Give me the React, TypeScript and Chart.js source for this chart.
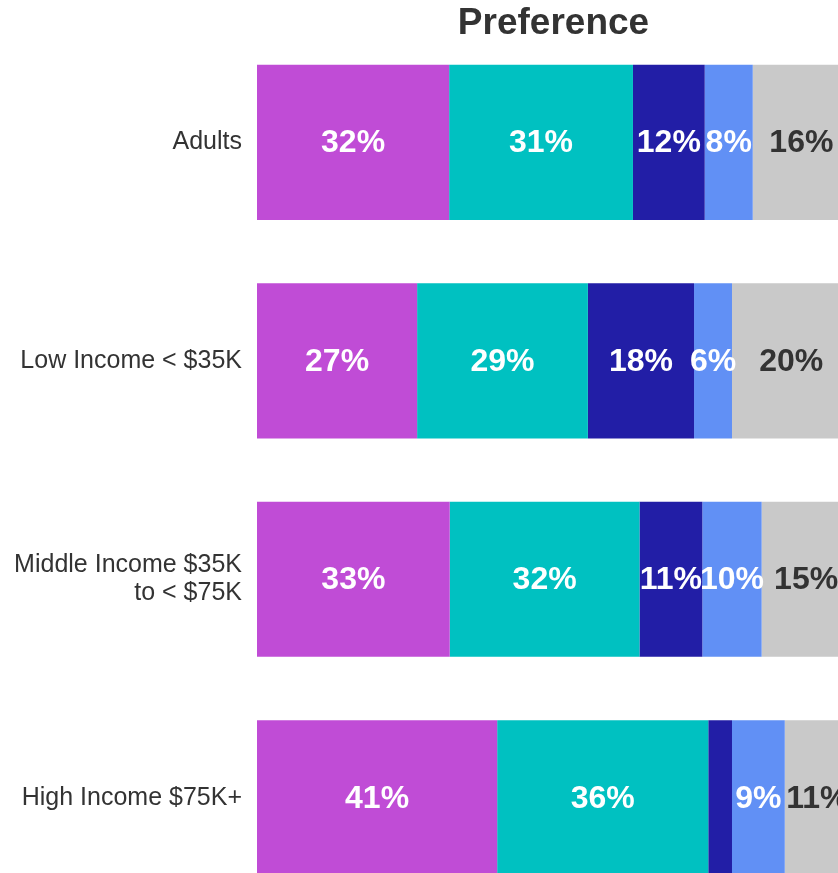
import React, { useEffect, useRef } from "react";
import { Chart, registerables } from "chart.js";

Chart.register(...registerables);

const categories: (string | string[])[] = [
  "Adults",
  "Low Income < $35K",
  ["Middle Income $35K", "to < $75K"],
  "High Income $75K+",
];

const seriesNames = ["Option 1", "Option 2", "Option 3", "Option 4", "Option 5"];
const series1 = [32.4, 27.0, 32.5, 40.5];
const series2 = [31.0, 28.8, 32.0, 35.6];
const series3 = [12.1, 17.9, 10.6, 4.0];
const series4 = [8.1, 6.4, 10.0, 8.9];
const series5 = [16.4, 20.0, 15.0, 11.0];
const seriesColors = ["#C04CD6", "#00C1C1", "#221EA6", "#6190F5", "#C9C9C9"];
const labelColors = ["#FFFFFF", "#FFFFFF", "#FFFFFF", "#FFFFFF", "#333333"];

const FONT = "'Liberation Sans', Arial, Helvetica, sans-serif";
const CANVAS_W = 850;
const CANVAS_H = 907;

const segmentLabels = {
  id: "segmentLabels",
  afterDatasetsDraw(chart: any) {
    const ctx = chart.ctx;
    ctx.save();
    ctx.font = `bold 32px ${FONT}`;
    ctx.textAlign = "center";
    ctx.textBaseline = "middle";
    chart.data.datasets.forEach((ds: any, di: number) => {
      const meta = chart.getDatasetMeta(di);
      meta.data.forEach((bar: any, i: number) => {
        const v = ds.data[i] as number;
        if (v < 5) return;
        const { x, y, base } = bar.getProps(["x", "y", "base"], true);
        ctx.fillStyle = labelColors[di];
        ctx.fillText(`${Math.round(v)}%`, (x + base) / 2, y + 1);
      });
    });
    ctx.restore();
  },
};

export default function App() {
  const ref = useRef<HTMLCanvasElement | null>(null);

  useEffect(() => {
    if (!ref.current) return;
    const all = [series1, series2, series3, series4, series5];
    const chart = new Chart(ref.current, {
      type: "bar",
      data: {
        labels: categories as any,
        datasets: all.map((d, i) => ({
          label: seriesNames[i],
          data: d,
          backgroundColor: seriesColors[i],
          borderWidth: 0,
          categoryPercentage: 1,
          barPercentage: 0.71,
        })),
      },
      options: {
        indexAxis: "y",
        animation: false,
        responsive: false,
        maintainAspectRatio: false,
        devicePixelRatio: 1,
        layout: { padding: 0 },
        plugins: {
          legend: { display: false },
          tooltip: { enabled: false },
          title: {
            display: true,
            text: "Preference",
            fullSize: false,
            color: "#333333",
            font: { family: FONT, size: 37, weight: "bold", lineHeight: 0.49 },
            padding: { top: 15, bottom: 0 },
          },
        },
        scales: {
          x: {
            type: "linear",
            stacked: true,
            min: 0,
            max: 100,
            display: false,
          },
          y: {
            stacked: true,
            grid: { display: false, drawTicks: false },
            border: { display: false },
            ticks: {
              color: "#333333",
              padding: 15,
              font: { family: FONT, size: 25, lineHeight: 1.12 },
            },
            afterFit: (scale: any) => {
              scale.width = 257;
              scale.paddingTop = 0;
              scale.paddingBottom = 0;
            },
          },
        },
      },
      plugins: [segmentLabels],
    });
    return () => chart.destroy();
  }, []);

  return (
    <div
      style={{
        position: "fixed",
        left: 0,
        top: 0,
        width: 838,
        height: 873,
        overflow: "hidden",
        background: "#fff",
      }}
    >
      <canvas
        ref={ref}
        width={CANVAS_W}
        height={CANVAS_H}
        style={{ display: "block", width: CANVAS_W, height: CANVAS_H }}
      />
    </div>
  );
}
